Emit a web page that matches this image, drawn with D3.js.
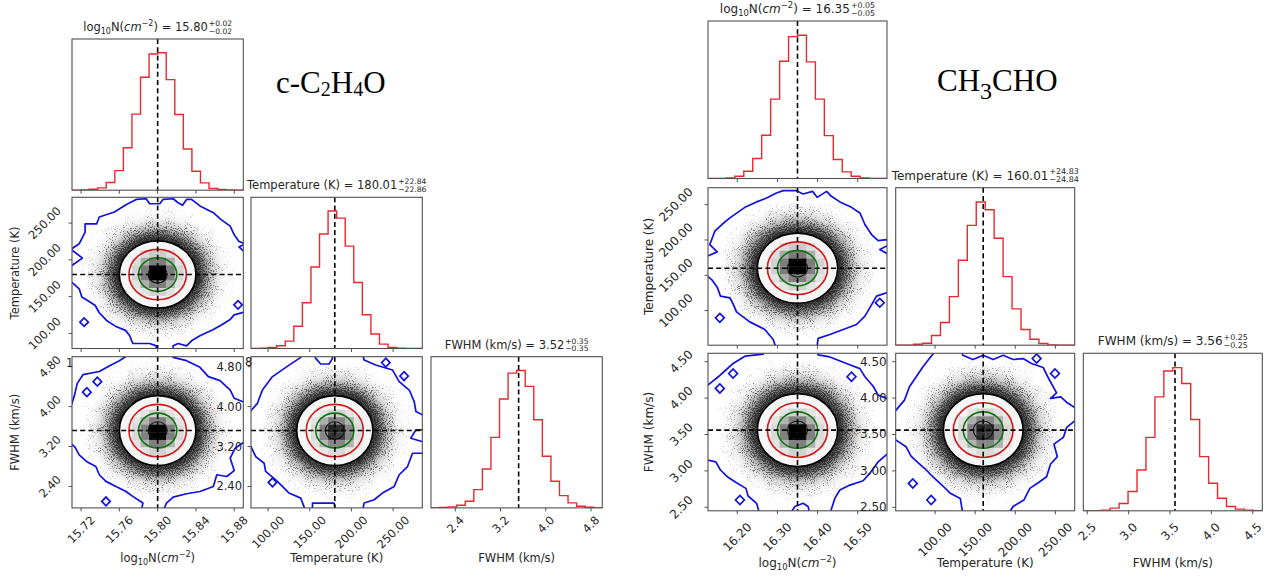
<!DOCTYPE html>
<html><head><meta charset="utf-8">
<script src="https://cdn.jsdelivr.net/npm/d3@7"></script>
<style>
body{margin:0;background:#fff;}
svg{display:block;}
text{font-family:"DejaVu Sans",sans-serif;}
</style>
</head><body>
<svg id="c" width="1269" height="577"></svg>
<script>
// ===================== DATA =====================
const paramParts = [
  [["log","n"],["10","sub"],["N(","n"],["cm","it"],["\u22122","sup"],[")","n"]],
  [["Temperature (K)","n"]],
  [["FWHM (km/s)","n"]]
];
const contourSigmas = [0.5, 1, 1.5, 2];
const contourColors = ["#111", "#127512", "#d01818", "#000"];

// ---- c-C2H4O ----
const c2h4oMedian = [15.80, 180.01, 3.52];
const c2h4oErrPlus = [0.02, 22.84, 0.35];
const c2h4oErrMinus = [0.02, 22.86, 0.35];
const c2h4oRange = [[15.7105, 15.8895], [79.5, 285.0], [1.97, 5.0]];
const c2h4oTicks = [[15.72, 15.76, 15.80, 15.84, 15.88], [100, 150, 200, 250], [2.4, 3.2, 4.0, 4.8]];
const c2h4oHistLogN = [0,1,3,7,23,59,128,229,340,410,414,333,228,124,57,22,5,2,1,0];
const c2h4oHistTemp = [0,1,3,8,22,66,136,242,340,408,387,304,196,100,43,13,3,1,0,0];
const c2h4oHistFWHM = [0,1,3,8,20,55,117,212,327,405,413,365,265,155,80,37,15,5,2,0];
const c2h4oDensNT = [[0,.10,.18,.18,.10,0],[.10,.30,.50,.50,.30,.08],[.15,.50,1,1,.50,.15],[.15,.50,1,1,.50,.12],[.08,.30,.50,.50,.30,.08],[0,.08,.15,.15,.08,0]];
const c2h4oDensNF = [[0,.08,.15,.15,.08,0],[.08,.28,.48,.48,.28,.08],[.12,.48,1,1,.48,.12],[.12,.48,1,1,.48,.12],[.08,.28,.48,.48,.28,.08],[0,.08,.15,.15,.08,0]];
const c2h4oDensTF = [[0,.08,.15,.15,.08,0],[.08,.30,.50,.45,.28,.08],[.12,.50,.85,.80,.45,.12],[.12,.45,.80,.75,.45,.10],[.08,.28,.45,.45,.28,.06],[0,.06,.12,.12,.06,0]];
// blue outer contours, in sigma offsets from the medians [dx, dy]
const c2h4oBlueNT = [[-3.79,2.53],[-3.79,3.01],[-3.19,3.01],[-3.05,3.42],[-2.26,3.72],[-1.65,4.15],[-1.12,4.47],[-0.6,4.51],[-0.42,4.21],[0.11,4.21],[0.28,4.47],[0.81,4.51],[1.07,4.27],[1.3,4.12],[1.51,4.47],[1.77,4.47],[2.21,4.08],[2.91,3.68],[3.3,3.28],[3.79,2.88],[4.0,2.36],[4.25,1.97],[4.58,1.83],[4.25,1.64],[4.58,1.29],[4.67,-0.25],[4.6,-2.2],[4.0,-2.4],[3.79,-2.67],[3.35,-2.99],[2.91,-3.27],[2.21,-3.64],[1.77,-3.94],[1.51,-4.24],[1.07,-4.1],[0.81,-4.24],[0.81,-4.51],[-0.07,-4.51],[-0.07,-4.24],[-0.42,-4.1],[-1.3,-4.1],[-1.47,-3.62],[-1.68,-3.32],[-2.21,-3.07],[-2.67,-2.73],[-3.05,-2.27],[-3.26,-1.84],[-3.58,-1.6],[-3.96,-1.34],[-4.1,-0.85],[-4.53,-0.41],[-4.72,0.05],[-4.53,0.5],[-3.93,0.98],[-4.53,1.5],[-4.1,1.83]];
const c2h4oIslandNT = [[-3.84,-2.83],[4.2,-1.8]];
const c2h4oBlueNF = [[-4.53,1.37],[-4.35,2.0],[-4.2,2.7],[-3.9,3.2],[-3.05,3.38],[-2.53,3.7],[-2.0,4.0],[-1.68,4.23],[-1.68,4.42],[0.81,4.42],[0.81,4.19],[1.51,4.0],[2.21,3.62],[2.65,3.09],[3.26,2.86],[3.79,2.32],[4.0,1.85],[4.67,1.56],[4.67,-0.53],[4.05,-1.01],[3.79,-1.58],[4.0,-2.29],[3.61,-2.63],[3.09,-2.53],[2.91,-3.2],[2.21,-3.49],[1.51,-3.62],[0.81,-3.81],[0.46,-4.15],[0.28,-4.63],[-0.86,-4.63],[-0.77,-4.15],[-1.3,-3.77],[-1.65,-3.49],[-2.18,-3.2],[-2.7,-2.91],[-3.05,-2.53],[-3.23,-2.06],[-3.72,-1.77],[-4.1,-1.39],[-4.32,-0.95],[-4.72,-0.53],[-4.72,1.18]];
const c2h4oIslandNF = [[-3.15,2.8],[-3.7,2.2],[-2.7,-4.06]];
const c2h4oBlueTF = [[-4.45,1.09],[-4.06,1.56],[-3.8,2.32],[-3.27,3.09],[-2.57,3.62],[-1.79,4.19],[-1.79,4.42],[-1.09,4.42],[-1.0,4.13],[-0.74,3.81],[-0.3,3.81],[-0.12,4.13],[-0.12,4.42],[1.45,4.42],[1.54,4.04],[2.15,3.75],[3.03,3.47],[3.38,2.8],[3.91,2.32],[4.17,1.66],[4.26,1.09],[4.78,0.8],[4.78,0.04],[4.26,0.04],[3.99,-0.44],[4.57,-0.63],[4.78,-0.72],[4.78,-1.3],[4.08,-1.3],[3.82,-2.06],[3.38,-2.53],[3.12,-3.2],[2.5,-3.58],[2.07,-3.96],[1.54,-4.15],[1.45,-4.63],[0.05,-4.63],[-0.04,-4.15],[-1.17,-4.15],[-1.17,-4.63],[-1.52,-4.63],[-1.79,-3.87],[-2.4,-3.58],[-2.75,-3.2],[-3.1,-2.82],[-3.63,-2.34],[-3.71,-1.87],[-4.15,-1.49],[-4.41,-0.91],[-4.68,-0.53],[-4.68,0.9]];
const c2h4oIslandTF = [[2.68,3.89],[3.64,3.12],[-3.27,-2.97]];

// ---- CH3CHO ----
const ch3choMedian = [16.35, 160.01, 3.56];
const ch3choErrPlus = [0.05, 24.83, 0.25];
const ch3choErrMinus = [0.05, 24.84, 0.25];
const ch3choRange = [[16.127, 16.573], [51.0, 274.0], [2.452, 4.615]];
const ch3choTicks = [[16.20, 16.30, 16.40, 16.50], [100, 150, 200, 250], [2.5, 3.0, 3.5, 4.0, 4.5]];
const ch3choHistLogN = [0,0,2,7,22,60,130,239,353,427,431,351,239,129,57,20,7,2,0,0];
const ch3choHistTemp = [0,0,3,6,29,68,146,255,360,430,407,321,206,109,47,18,5,1,0,0];
const ch3choHistFWHM = [0,0,2,8,22,58,123,221,343,421,431,383,275,163,83,38,13,5,2,0];
const ch3choDensNT = [[0,.10,.18,.18,.10,0],[.10,.32,.50,.50,.30,.08],[.15,.50,1,1,.50,.15],[.15,.50,1,1,.48,.12],[.08,.30,.48,.48,.30,.08],[0,.08,.15,.15,.08,0]];
const ch3choDensNF = [[0,.08,.15,.15,.08,0],[.08,.28,.48,.48,.28,.08],[.12,.48,1,1,.48,.12],[.12,.48,1,1,.48,.12],[.08,.28,.48,.48,.28,.08],[0,.08,.15,.15,.08,0]];
const ch3choDensTF = [[0,.08,.15,.15,.08,0],[.08,.30,.48,.45,.28,.08],[.12,.48,.85,.80,.45,.12],[.12,.45,.80,.75,.45,.10],[.08,.28,.45,.45,.28,.06],[0,.06,.12,.12,.06,0]];
const ch3choBlueNT = [[-4.7,0.59],[-4.0,0.93],[-4.37,1.35],[-4.12,2.11],[-3.74,2.52],[-3.37,2.87],[-2.62,3.47],[-2.04,3.78],[-1.54,4.0],[-1.05,4.29],[-0.71,4.42],[-0.05,4.42],[0.28,4.23],[0.75,4.38],[0.98,4.04],[1.45,4.38],[1.69,4.1],[2.11,3.78],[2.69,3.47],[3.11,3.15],[3.36,2.49],[3.69,1.92],[4.02,1.57],[4.45,1.63],[4.68,1.4],[4.1,1.06],[4.68,0.7],[4.68,-1.31],[3.94,-1.59],[3.6,-2.26],[3.36,-2.73],[2.94,-3.21],[2.28,-3.49],[1.61,-3.78],[1.03,-4.0],[0.95,-4.63],[-1.05,-4.63],[-1.21,-4.06],[-1.63,-3.49],[-2.38,-3.06],[-3.04,-2.49],[-3.21,-2.03],[-3.37,-1.69],[-3.84,-1.59],[-4.0,-1.08],[-4.24,-0.7],[-4.47,-0.46],[-4.7,-0.27]];
const ch3choIslandNT = [[-3.87,-2.83],[4.1,-1.97]];
const ch3choBlueNF = [[-4.7,2.19],[-4.47,2.47],[-3.95,2.93],[-3.54,3.33],[-3.21,3.66],[-2.62,4.06],[-1.71,4.17],[-1.63,4.39],[0.95,4.39],[1.03,4.13],[1.61,4.02],[2.44,3.66],[3.11,3.38],[3.36,2.93],[3.77,2.41],[4.02,1.92],[4.45,1.74],[4.68,1.46],[4.68,-1.1],[4.02,-1.74],[3.6,-2.38],[3.27,-2.78],[2.61,-3.02],[2.11,-3.29],[1.86,-3.75],[1.61,-4.61],[0.61,-4.61],[0.53,-4.2],[0.28,-4.02],[-0.13,-4.2],[-0.38,-4.61],[-1.88,-4.61],[-2.04,-4.02],[-2.46,-3.62],[-2.57,-3.2],[-3.04,-2.89],[-3.5,-2.56],[-3.84,-2.19],[-4.07,-1.74],[-4.47,-1.65],[-4.7,-1.55]];
const ch3choIslandNF = [[-3.21,3.11],[-3.87,2.29],[2.69,2.93],[-2.87,-3.84]];
const ch3choBlueTF = [[-4.62,0.91],[-4.37,1.1],[-3.95,1.65],[-3.7,2.38],[-3.36,2.93],[-3.03,3.47],[-2.61,4.06],[-2.36,4.39],[-1.1,4.39],[-1.02,4.11],[-0.51,3.88],[0.0,4.11],[0.5,3.88],[1.0,4.11],[1.5,3.88],[2.0,3.93],[2.42,3.66],[3.01,3.44],[3.31,2.78],[3.68,2.05],[3.38,1.74],[3.89,1.83],[4.22,1.5],[4.59,1.24],[4.77,1.1],[4.77,0.6],[4.59,0.51],[4.19,0.15],[4.02,-0.4],[3.55,-0.77],[3.72,-1.46],[3.38,-1.86],[3.18,-2.56],[2.76,-2.89],[2.34,-3.2],[2.04,-3.84],[1.5,-4.2],[1.25,-4.61],[-1.02,-4.61],[-1.15,-3.75],[-1.65,-3.47],[-2.02,-3.07],[-2.53,-2.56],[-2.86,-2.19],[-3.23,-1.83],[-3.62,-1.43],[-3.87,-0.91],[-4.37,-0.55],[-4.62,-0.46]];
const ch3choIslandTF = [[2.68,3.93],[3.6,3.11],[-3.53,-2.93],[-2.61,-3.84]];

const fmtBottom = [".2f", ".2f", ".1f"];
const fmtLeft = [null, ".2f", ".2f"];

// ===================== RENDER =====================
const svg = d3.select("#c");
const defs = svg.append("defs");
const textColor = "#262626", frameColor = "#505050";

// grain texture filter for the scattered sample cloud
const f = defs.append("filter").attr("id","grain").attr("x","-5%").attr("y","-5%")
  .attr("width","110%").attr("height","110%").attr("color-interpolation-filters","sRGB");
f.append("feTurbulence").attr("type","fractalNoise").attr("baseFrequency","0.95")
  .attr("numOctaves","1").attr("seed","7").attr("result","noise");
f.append("feColorMatrix").attr("in","noise").attr("type","matrix")
  .attr("values","0 0 0 0 0  0 0 0 0 0  0 0 0 0 0  2.5 0 0 0 -0.75").attr("result","na");
f.append("feComposite").attr("in","SourceGraphic").attr("in2","na").attr("operator","arithmetic")
  .attr("k1","0").attr("k2","1").attr("k3","1").attr("k4","-1.08").attr("result","sum");
f.append("feComponentTransfer").attr("in","sum").append("feFuncA").attr("type","linear").attr("slope","3").attr("intercept","0");

const grad = defs.append("radialGradient").attr("id","cloudGrad");
[[0,1],[0.333,1],[0.4,0.8],[0.46,0.58],[0.52,0.4],[0.58,0.26],[0.65,0.16],[0.72,0.1],[0.8,0.06],[0.9,0.03],[1,0]]
  .forEach(([o,a]) => grad.append("stop").attr("offset",o).attr("stop-color","#000").attr("stop-opacity",a));
const soft = defs.append("radialGradient").attr("id","cloudSoft");
[[0,0.7],[0.333,0.7],[0.37,0.62],[0.41,0.45],[0.45,0.28],[0.5,0.14],[0.55,0.06],[0.6,0.02],[0.66,0]]
  .forEach(([o,a]) => soft.append("stop").attr("offset",o).attr("stop-color","#000").attr("stop-opacity",a));

function rich(sel, parts, fs) {
  let shift = 0;
  parts.forEach(([s,k]) => {
    let target = 0, size = fs;
    if (k === "sub") { target = fs*0.28; size = fs*0.7; }
    if (k === "sup") { target = -fs*0.42; size = fs*0.7; }
    const t = sel.append("tspan").text(s).attr("dy", target - shift).attr("font-size", size);
    if (k === "it") t.attr("font-style","italic");
    shift = target;
  });
}

function drawCorner(L, D) {
  const g = svg.append("g");
  const n = 3;
  const sig = D.errP.map((p,i) => (p + D.errM[i]) / 2);
  const xs = D.range.map((r,i) => d3.scaleLinear().domain(r).range([L.cols[i], L.cols[i] + L.w]));
  const ys = D.range.map((r,j) => d3.scaleLinear().domain(r).range([L.rows[j] + L.h, L.rows[j]]));
  const fs = L.fs;

  for (let j = 0; j < n; j++) for (let i = 0; i <= j; i++) {
    const px = L.cols[i], py = L.rows[j];
    const cid = `clip-${D.id}-${i}${j}`;
    defs.append("clipPath").attr("id", cid).append("rect")
      .attr("x", px).attr("y", py).attr("width", L.w).attr("height", L.h);
    const pg = g.append("g");
    const inner = pg.append("g").attr("clip-path", `url(#${cid})`);
    const mx = xs[i](D.median[i]);

    if (i === j) {
      const h = D.hists[i];
      const yh = d3.scaleLinear().domain([0, 1.1 * d3.max(h)]).range([py + L.h, py]);
      const r = D.range[i], nb = h.length;
      const edge = k => r[0] + k * (r[1] - r[0]) / nb;
      const pts = [[edge(0), 0]];
      h.forEach((c,k) => { pts.push([edge(k), c]); pts.push([edge(k+1), c]); });
      pts.push([edge(nb), 0]);
      inner.append("path").attr("d", d3.line().x(d => xs[i](d[0])).y(d => yh(d[1]))(pts))
        .attr("fill","none").attr("stroke","#e8282e").attr("stroke-width",1.4);
      inner.append("line").attr("x1", mx).attr("x2", mx).attr("y1", py).attr("y2", py + L.h)
        .attr("stroke","#000").attr("stroke-width",1.6).attr("stroke-dasharray","5,3.2");
    } else {
      const my = ys[j](D.median[j]);
      const sx = xs[i](D.median[i] + sig[i]) - mx;
      const sy = my - ys[j](D.median[j] + sig[j]);
      const key = `${j}${i}`;
      // scattered samples: soft density haze + grain
      inner.append("ellipse").attr("cx",mx).attr("cy",my).attr("rx",6*sx).attr("ry",6*sy)
        .attr("fill","url(#cloudSoft)");
      inner.append("g").attr("filter","url(#grain)").attr("opacity",0.5)
        .append("ellipse").attr("cx",mx).attr("cy",my).attr("rx",6*sx).attr("ry",6*sy)
        .attr("fill","url(#cloudGrad)");
      // white interior of the outermost filled level
      inner.append("ellipse").attr("cx",mx).attr("cy",my).attr("rx",2*sx).attr("ry",2*sy).attr("fill","#f6f6f6");
      // 2D histogram cells
      const eid = `ell-${D.id}-${key}`;
      defs.append("clipPath").attr("id", eid).append("ellipse")
        .attr("cx",mx).attr("cy",my).attr("rx",2*sx).attr("ry",2*sy);
      const cells = inner.append("g").attr("clip-path", `url(#${eid})`);
      const bwx = (D.range[i][1] - D.range[i][0]) / 20, bwy = (D.range[j][1] - D.range[j][0]) / 20;
      const i0 = Math.round((D.median[i] - D.range[i][0]) / bwx) - 3;
      const j0 = Math.round((D.median[j] - D.range[j][0]) / bwy) - 3;
      const M = D.dens[key];
      M.forEach((row, rr) => row.forEach((v, cc) => {
        if (v <= 0) return;
        const xa = xs[i](D.range[i][0] + (i0 + cc) * bwx), xb = xs[i](D.range[i][0] + (i0 + cc + 1) * bwx);
        const yb = j0 + (M.length - 1 - rr);
        const ya = ys[j](D.range[j][0] + (yb + 1) * bwy), yc = ys[j](D.range[j][0] + yb * bwy);
        const gv = Math.round(247 * (1 - v));
        cells.append("rect").attr("x", xa).attr("y", ya).attr("width", xb - xa + 0.3).attr("height", yc - ya + 0.3)
          .attr("fill", `rgb(${gv},${gv},${gv})`);
      }));
      // sigma contours
      contourSigmas.forEach((k, ci) => {
        inner.append("ellipse").attr("cx",mx).attr("cy",my).attr("rx",k*sx).attr("ry",k*sy)
          .attr("fill","none").attr("stroke",contourColors[ci]).attr("stroke-width", ci === 0 ? 1.1 : 1.6);
      });
      // outer blue contour
      const toPx = d => [xs[i](D.median[i] + d[0]*sig[i]), ys[j](D.median[j] + d[1]*sig[j])];
      inner.append("path").attr("d", d3.line().curve(d3.curveLinearClosed)(D.blue[key].map(toPx)))
        .attr("fill","none").attr("stroke","#1010e0").attr("stroke-width",1.7).attr("stroke-linejoin","round");
      D.islands[key].forEach(c => {
        const poly = [[c[0]-0.22, c[1]], [c[0], c[1]+0.25], [c[0]+0.22, c[1]], [c[0], c[1]-0.25]].map(toPx);
        inner.append("path").attr("d", d3.line().curve(d3.curveLinearClosed)(poly))
          .attr("fill","none").attr("stroke","#1010e0").attr("stroke-width",1.7);
      });
      // median cross-hair
      inner.append("line").attr("x1", mx).attr("x2", mx).attr("y1", py).attr("y2", py + L.h)
        .attr("stroke","#000").attr("stroke-width",1.6).attr("stroke-dasharray","5,3.2");
      inner.append("line").attr("x1", px).attr("x2", px + L.w).attr("y1", my).attr("y2", my)
        .attr("stroke","#000").attr("stroke-width",1.6).attr("stroke-dasharray","5,3.2");
    }
    pg.append("rect").attr("x", px).attr("y", py).attr("width", L.w).attr("height", L.h)
      .attr("fill","none").attr("stroke",frameColor).attr("stroke-width",1.1);

    // bottom ticks
    D.ticks[i].forEach(t => {
      const x = xs[i](t);
      pg.append("line").attr("x1",x).attr("x2",x).attr("y1",py + L.h).attr("y2",py + L.h + 3.5)
        .attr("stroke",frameColor).attr("stroke-width",1);
    });
    // left ticks
    if (j > 0 && i < j && (i === 0 || j === 2)) {
      D.ticks[j].forEach(t => {
        const y = ys[j](t);
        pg.append("line").attr("x1",px - 3.5).attr("x2",px).attr("y1",y).attr("y2",y)
          .attr("stroke",frameColor).attr("stroke-width",1);
      });
    }
  }

  const tg = g.append("g").attr("fill", textColor);
  // bottom tick labels
  for (let i = 0; i < n; i++) {
    const yTop = L.rows[2] + L.h + L.xPad;
    D.ticks[i].forEach(t => {
      const tx = tg.append("text").attr("font-size", fs).attr("text-anchor","middle")
        .attr("dominant-baseline","central").text(d3.format(fmtBottom[i])(t));
      const len = tx.node().getComputedTextLength();
      const hb = (len + fs*0.75) / (2*Math.SQRT2);
      tx.attr("transform", `translate(${xs[i](t)},${yTop + hb}) rotate(-45)`);
    });
    const xl = tg.append("text").attr("x", L.cols[i] + L.w/2).attr("y", L.xLabY)
      .attr("font-size", fs).attr("text-anchor","middle");
    rich(xl, paramParts[i], fs);
  }
  // left tick labels + y labels
  for (let j = 1; j < n; j++) {
    const xr = L.cols[0] - L.yPad;
    D.ticks[j].forEach(t => {
      const tx = tg.append("text").attr("font-size", fs).attr("text-anchor","middle")
        .attr("dominant-baseline","central").text(d3.format(fmtLeft[j])(t));
      const len = tx.node().getComputedTextLength();
      const hb = (len + fs*0.75) / (2*Math.SQRT2);
      tx.attr("transform", `translate(${xr - hb},${ys[j](t)}) rotate(-45)`);
    });
    const yl = tg.append("text").attr("font-size", fs).attr("text-anchor","middle")
      .attr("transform", `translate(${L.yLabX},${L.rows[j] + L.h/2}) rotate(-90)`);
    rich(yl, paramParts[j], fs);
  }
  // unrotated y tick labels of panel (2,1) overlapping the neighbour
  D.ticks[2].forEach(t => {
    tg.append("text").attr("x", L.cols[1] - 9).attr("y", ys[2](t)).attr("font-size", fs)
      .attr("text-anchor","end").attr("dominant-baseline","central").text(d3.format(fmtLeft[2])(t));
  });
  // titles
  for (let i = 0; i < n; i++) {
    const grp = tg.append("g");
    const by = L.rows[i] - L.titleGap;
    const t = grp.append("text").attr("x",0).attr("y",by).attr("font-size",fs);
    rich(t, paramParts[i].concat([[" = " + d3.format(".2f")(D.median[i]), "n"]]), fs);
    const len = t.node().getComputedTextLength();
    const s1 = grp.append("text").attr("x",len+1).attr("y",by - fs*0.45).attr("font-size",fs*0.66)
      .text("+" + d3.format(".2f")(D.errP[i]));
    const s2 = grp.append("text").attr("x",len+1).attr("y",by + fs*0.22).attr("font-size",fs*0.66)
      .text("\u2212" + d3.format(".2f")(D.errM[i]));
    const W = len + 1 + Math.max(s1.node().getComputedTextLength(), s2.node().getComputedTextLength());
    grp.attr("transform", `translate(${L.cols[i] + L.w/2 - W/2},0)`);
  }
  return tg;
}

const leftLayout = {cols:[72, 251, 431], rows:[39, 197.3, 356.7], w:171.3, h:151.2, fs:11.5, xPad:7, yPad:10, xLabY:562, yLabX:19, titleGap:8};
const rightLayout = {cols:[708, 895.7, 1083.3], rows:[21, 187.7, 353.3], w:179, h:157.5, fs:12, xPad:11, yPad:14, xLabY:567, yLabX:652.5, titleGap:8};

const tgl = drawCorner(leftLayout, {
  id:"c2h4o", median:c2h4oMedian, errP:c2h4oErrPlus, errM:c2h4oErrMinus, range:c2h4oRange, ticks:c2h4oTicks,
  hists:[c2h4oHistLogN, c2h4oHistTemp, c2h4oHistFWHM],
  dens:{"10":c2h4oDensNT, "20":c2h4oDensNF, "21":c2h4oDensTF},
  blue:{"10":c2h4oBlueNT, "20":c2h4oBlueNF, "21":c2h4oBlueTF},
  islands:{"10":c2h4oIslandNT, "20":c2h4oIslandNF, "21":c2h4oIslandTF}
});
drawCorner(rightLayout, {
  id:"ch3cho", median:ch3choMedian, errP:ch3choErrPlus, errM:ch3choErrMinus, range:ch3choRange, ticks:ch3choTicks,
  hists:[ch3choHistLogN, ch3choHistTemp, ch3choHistFWHM],
  dens:{"10":ch3choDensNT, "20":ch3choDensNF, "21":ch3choDensTF},
  blue:{"10":ch3choBlueNT, "20":ch3choBlueNF, "21":ch3choBlueTF},
  islands:{"10":ch3choIslandNT, "20":ch3choIslandNF, "21":ch3choIslandTF}
});
// clipped label fragments
tgl.append("text").attr("x",66).attr("y",367).attr("font-size",11.5).text("1");
tgl.append("text").attr("x",245).attr("y",366).attr("font-size",11.5).text("8");

// molecule names
const serif = "'Liberation Serif', 'Times New Roman', serif";
const m1 = svg.append("text").attr("x",276).attr("y",93).style("font-family",serif).attr("font-size",31).attr("fill","#000");
m1.append("tspan").text("c-C");
m1.append("tspan").text("2").attr("font-size",20).attr("dy",2.5);
m1.append("tspan").text("H").attr("dy",-2.5);
m1.append("tspan").text("4").attr("font-size",20).attr("dy",2.5);
m1.append("tspan").text("O").attr("dy",-2.5);
const m2 = svg.append("text").attr("x",937).attr("y",91).style("font-family",serif).attr("font-size",31).attr("fill","#000");
m2.append("tspan").text("CH");
m2.append("tspan").text("3").attr("font-size",24).attr("dy",8);
m2.append("tspan").text("CHO").attr("dy",-8);
</script>
</body></html>
